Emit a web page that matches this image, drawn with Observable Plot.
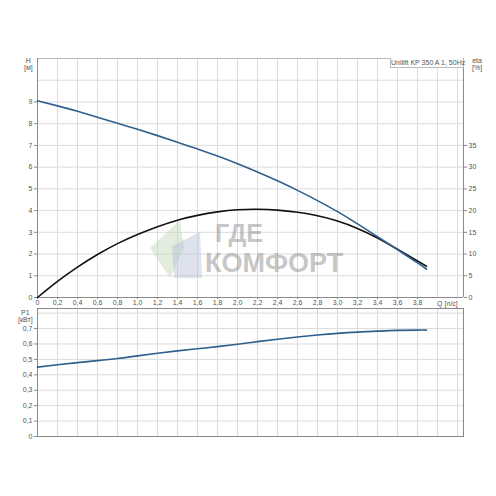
<!DOCTYPE html>
<html>
<head>
<meta charset="utf-8">
<script src="https://cdn.jsdelivr.net/npm/d3@7"></script>
<script src="https://cdn.jsdelivr.net/npm/@observablehq/plot@0.6"></script>
<style>
  html, body { margin: 0; padding: 0; background: #fff; }
  #wrap { position: relative; width: 496px; height: 496px; overflow: hidden; font-family: "Liberation Sans", Arial, sans-serif; color: #555; }
  #wrap svg { position: absolute; left: 0; }
  .lbl { position: absolute; font-size: 7px; line-height: 7px; color: #555; text-align: center; white-space: nowrap; }
  #title { position: absolute; left: 390px; top: 58px; width: 72px; height: 9px; border: 1px solid #bbb; border-top: none; background: #fff; font-size: 7px; line-height: 9px; color: #555; text-align: center; white-space: nowrap; z-index: 3; }
  #wm { position: absolute; left: 150px; top: 218px; width: 210px; height: 62px; pointer-events: none; z-index: 2; }
  .wmt { position: absolute; font-family: "Liberation Sans", Arial, sans-serif; font-weight: 700; line-height: 1; color: rgba(150,150,150,0.55); white-space: nowrap; }
</style>
</head>
<body>
<div id="wrap"></div>
<script>
// Flow (Q, л/с)
const q = [0, 0.2, 0.4, 0.6, 0.8, 1.0, 1.2, 1.4, 1.6, 1.8, 2.0, 2.2, 2.4, 2.6, 2.8, 3.0, 3.2, 3.4, 3.6, 3.8, 3.89];
// Head H [м]
const head = [9.05, 8.82, 8.57, 8.3, 8.02, 7.74, 7.45, 7.15, 6.84, 6.51, 6.16, 5.78, 5.37, 4.93, 4.46, 3.95, 3.39, 2.8, 2.2, 1.59, 1.31];
// Efficiency eta [%]
const eta = [0, 3.7, 7.0, 9.9, 12.4, 14.5, 16.3, 17.8, 18.9, 19.7, 20.2, 20.3, 20.1, 19.6, 18.8, 17.6, 15.9, 13.7, 11.1, 8.4, 7.2];
// Power P1 [кВт]
const p1 = [0.45, 0.465, 0.479, 0.492, 0.506, 0.523, 0.54, 0.555, 0.569, 0.583, 0.598, 0.615, 0.631, 0.645, 0.658, 0.669, 0.677, 0.683, 0.688, 0.69, 0.69];

// Tick labels
const qTicks = [0, 0.2, 0.4, 0.6, 0.8, 1.0, 1.2, 1.4, 1.6, 1.8, 2.0, 2.2, 2.4, 2.6, 2.8, 3.0, 3.2, 3.4, 3.6, 3.8];
const qGrid = [0, 0.2, 0.4, 0.6, 0.8, 1.0, 1.2, 1.4, 1.6, 1.8, 2.0, 2.2, 2.4, 2.6, 2.8, 3.0, 3.2, 3.4, 3.6, 3.8, 4.0, 4.2];
const hTicks = [0, 1, 2, 3, 4, 5, 6, 7, 8, 9];
const hGrid = [0, 1, 2, 3, 4, 5, 6, 7, 8, 9, 10, 11];
const etaTicks = [0, 5, 10, 15, 20, 25, 30, 35];
const pTicks = [0, 0.1, 0.2, 0.3, 0.4, 0.5, 0.6, 0.7];
const pGrid = [0, 0.1, 0.2, 0.3, 0.4, 0.5, 0.6, 0.7, 0.8];

const chartTitle = "Unilift KP 350 A 1, 50Hz";

const rows = q.map((v, i) => ({q: v, h: head[i], eta: eta[i], p: p1[i]}));
const comma = d => d3.format(".1f")(d).replace(".", ",");
const ETA_PER_H = 5; // right axis: 5 % per 1 m

const blue = "#2f5f8c";
const gridC = "#dcdcdc";
const axisC = "#8a8a8a";
const plotStyle = {background: "transparent", fontFamily: "'Liberation Sans', Arial, sans-serif", fontSize: "7px", color: "#555", overflow: "visible"};

const topChart = Plot.plot({
  width: 496, height: 310,
  marginLeft: 37, marginRight: 33, marginTop: 58, marginBottom: 13,
  style: plotStyle,
  x: {domain: [0, 4.26]},
  y: {domain: [0, 11]},
  marks: [
    Plot.gridX(qGrid, {stroke: gridC, strokeOpacity: 1}),
    Plot.gridY(hGrid, {stroke: gridC, strokeOpacity: 1}),
    Plot.ruleY([11], {stroke: "#bbb"}),
    Plot.ruleY([0], {stroke: axisC}),
    Plot.ruleX([0, 4.26], {stroke: axisC}),
    Plot.axisY(hTicks, {anchor: "left", label: null, tickSize: 3, tickPadding: 2, stroke: axisC, fill: "#555", tickFormat: d => String(d)}),
    Plot.axisY(etaTicks.map(e => e / ETA_PER_H), {anchor: "right", label: null, tickSize: 3, tickPadding: 2, stroke: axisC, fill: "#555", tickFormat: d => String(Math.round(d * ETA_PER_H))}),
    Plot.axisX(qTicks, {anchor: "bottom", label: null, tickSize: 2, tickPadding: 1, stroke: axisC, fill: "#555", tickFormat: d => d === 0 ? "0" : comma(d)}),
    Plot.line(rows, {x: "q", y: d => d.eta / ETA_PER_H, stroke: "#111", strokeWidth: 1.6, curve: "natural"}),
    Plot.line(rows, {x: "q", y: "h", stroke: blue, strokeWidth: 1.6, curve: "natural"})
  ]
});
topChart.style.top = "0px";

const bottomChart = Plot.plot({
  width: 496, height: 200,
  marginLeft: 37, marginRight: 33, marginTop: 12, marginBottom: 60,
  style: plotStyle,
  x: {domain: [0, 4.26], axis: null},
  y: {domain: [0, 0.83], axis: null},
  marks: [
    Plot.gridX(qGrid, {stroke: gridC, strokeOpacity: 1}),
    Plot.gridY(pGrid, {stroke: gridC, strokeOpacity: 1}),
    Plot.frame({stroke: axisC}),
    Plot.axisY(pTicks, {anchor: "left", label: null, tickSize: 3, tickPadding: 2, stroke: axisC, fill: "#555", tickFormat: d => d === 0 ? "0" : comma(d)}),
    Plot.line(rows, {x: "q", y: "p", stroke: blue, strokeWidth: 1.6, curve: "natural"})
  ]
});
bottomChart.style.top = "296px";

const wrap = document.getElementById("wrap");
wrap.appendChild(bottomChart);
wrap.appendChild(topChart);

function label(text, left, topPx) {
  const d = document.createElement("div");
  d.className = "lbl";
  d.innerHTML = text;
  d.style.left = left + "px";
  d.style.top = topPx + "px";
  wrap.appendChild(d);
  return d;
}
label("H<br>[м]", 24, 57);
label("eta<br>[%]", 472, 57);
label("P1<br>[кВт]", 18, 309);
label("Q [л/с]", 437, 300);

const t = document.createElement("div");
t.id = "title";
t.textContent = chartTitle;
wrap.appendChild(t);

// faint watermark
const wm = document.createElement("div");
wm.id = "wm";
wm.innerHTML = `
<svg width="60" height="62" style="position:absolute;left:0;top:0" viewBox="0 0 60 62">
  <polygon points="0,30 30,2 34,30 20,60" fill="rgba(190,215,180,0.45)"></polygon>
  <polygon points="22,28 50,14 52,60 24,60" fill="rgba(180,190,215,0.45)"></polygon>
</svg>
<div class="wmt" style="left:65px;top:2.5px;font-size:25px;">ГДЕ</div>
<div class="wmt" style="left:55px;top:31.5px;font-size:27px;">КОМФОРТ</div>`;
wrap.appendChild(wm);
</script>
</body>
</html>
